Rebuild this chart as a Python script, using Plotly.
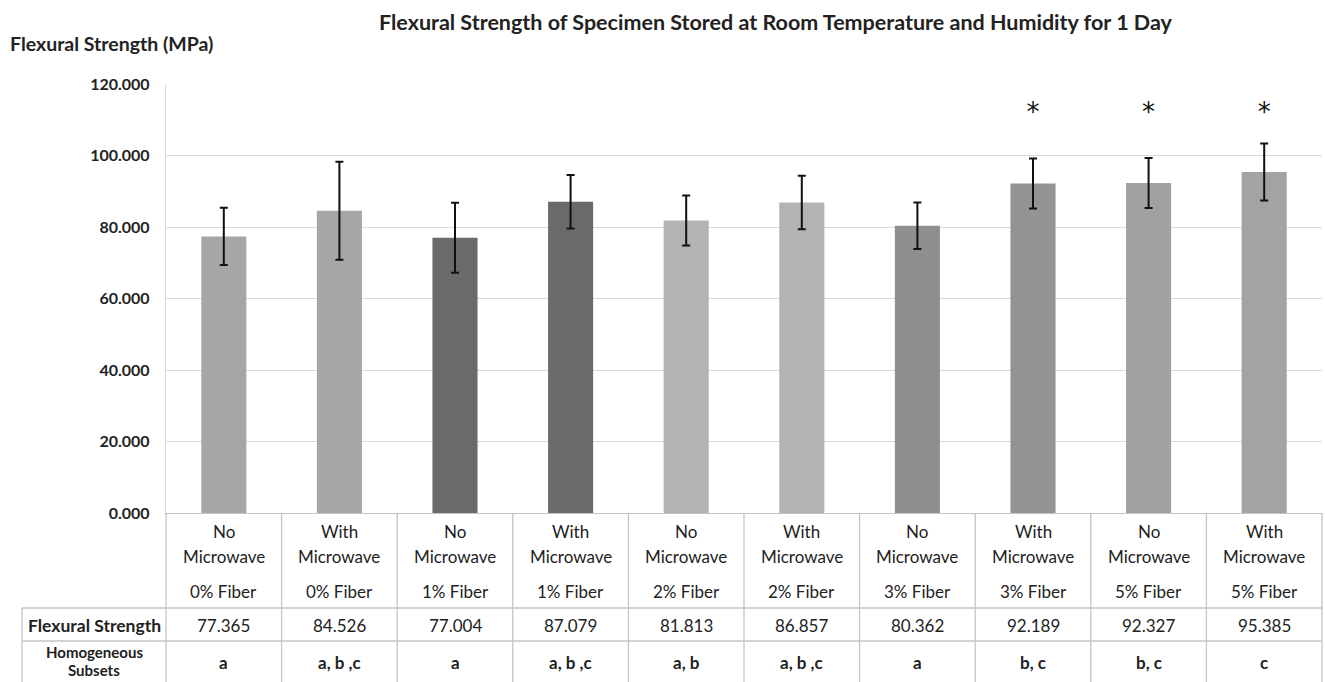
import plotly.graph_objects as go

# ---------------- data ----------------
microwave = ["No", "With", "No", "With", "No", "With", "No", "With", "No", "With"]
fiber = ["0% Fiber", "0% Fiber", "1% Fiber", "1% Fiber", "2% Fiber",
         "2% Fiber", "3% Fiber", "3% Fiber", "5% Fiber", "5% Fiber"]
strength = [77.365, 84.526, 77.004, 87.079, 81.813, 86.857, 80.362, 92.189, 92.327, 95.385]
strength_sd = [8.0, 13.7, 9.8, 7.5, 7.0, 7.5, 6.5, 7.0, 7.0, 8.0]
subsets = ["a", "a, b ,c", "a", "a, b ,c", "a, b", "a, b ,c", "a", "b, c", "b, c", "c"]
significant = [False, False, False, False, False, False, False, True, True, True]
star_level = 111.6
bar_colors = ["#a6a6a6", "#a6a6a6", "#6a6a6a", "#6a6a6a", "#b3b3b3",
              "#b3b3b3", "#8f8f8f", "#939393", "#a1a1a1", "#a3a3a3"]
y_ticks = [0, 20, 40, 60, 80, 100, 120]

title = "Flexural Strength of Specimen Stored at Room Temperature and Humidity for 1 Day"
y_title = "Flexural Strength (MPa)"
row_label_strength = "Flexural Strength"
row_label_subsets = ["Homogeneous", "Subsets"]

# ---------------- layout geometry ----------------
W, H = 1325, 682
L, R, T, B = 166, 3, 84, 169
plot_w = W - L - R
plot_h = H - T - B
FONT = "Lato"
GRID = "#d9d9d9"
TBL = "#c4c4c4"
INK = "#222222"


def py(pix):
    """pixel row -> paper y"""
    return (H - B - pix) / plot_h


def px(pix):
    """pixel column -> paper x"""
    return (pix - L) / plot_w


n = len(strength)
idx = list(range(n))

fig = go.Figure()
fig.add_trace(go.Bar(
    x=idx, y=strength, width=0.39,
    marker=dict(color=bar_colors, line=dict(width=0)),
    error_y=dict(type="data", array=strength_sd, visible=True,
                 color="#111111", thickness=2, width=4),
    showlegend=False, hoverinfo="skip",
))
sx = [i for i in idx if significant[i]]
fig.add_trace(go.Scatter(
    x=sx, y=[star_level] * len(sx), mode="text", text=["*"] * len(sx),
    textfont=dict(family="DejaVu Sans", size=26, color="#111111"),
    textposition="middle center", showlegend=False, hoverinfo="skip",
))

annotations = []


def ann(text, x, y, size, bold=False, xref="paper", xanchor="center"):
    annotations.append(dict(text=("<b>" + text + "</b>") if bold else text,
                            xref=xref, yref="paper", x=x, y=y,
                            xanchor=xanchor, yanchor="middle", showarrow=False,
                            font=dict(family=FONT, size=size, color=INK)))


# title and axis title
ann(title, px(776), py(22), 21.5, bold=True)
ann(y_title, px(8), py(43), 19.5, bold=True, xanchor="left")

# table text
for i in idx:
    ann(microwave[i], i, py(531), 17, xref="x")
    ann("Microwave", i, py(556), 17, xref="x")
    ann(fiber[i], i, py(591), 17, xref="x")
    ann(f"{strength[i]:.3f}", i, py(625), 17, xref="x")
    ann(subsets[i], i, py(662), 17, bold=True, xref="x")

ann(row_label_strength, px(94), py(625), 17.5, bold=True)
ann(row_label_subsets[0], px(94), py(652), 15, bold=True)
ann(row_label_subsets[1], px(94), py(670), 15, bold=True)

# table lines
shapes = []
line = dict(color=TBL, width=1.3)
y_bottom = py(H + 2)
for k in range(n + 1):
    shapes.append(dict(type="line", xref="paper", yref="paper", x0=k / n, x1=k / n,
                       y0=0, y1=y_bottom, line=line))
for rowpix in (608, 641):
    shapes.append(dict(type="line", xref="paper", yref="paper", x0=px(22), x1=1,
                       y0=py(rowpix), y1=py(rowpix), line=line))
shapes.append(dict(type="line", xref="paper", yref="paper", x0=px(22), x1=px(22),
                   y0=py(608), y1=y_bottom, line=line))

fig.update_layout(
    width=W, height=H,
    margin=dict(l=L, r=R, t=T, b=B, pad=0),
    paper_bgcolor="white", plot_bgcolor="white",
    xaxis=dict(range=[-0.5, n - 0.5], showticklabels=False, showgrid=False,
               zeroline=False, showline=True, linecolor=TBL, linewidth=1.3, fixedrange=True),
    yaxis=dict(range=[0, 120], tickvals=y_ticks, tickformat=".3f",
               showgrid=True, gridcolor=GRID, gridwidth=1.3, zeroline=False,
               showline=True, linecolor=GRID, linewidth=1.3, ticks="",
               ticklabelstandoff=12,
               tickfont=dict(family=FONT, size=16, color=INK, weight="bold")),
    annotations=annotations, shapes=shapes,
    font=dict(family=FONT),
)

fig.write_html("out.html",
               config={"displayModeBar": False},
               post_script="document.body.style.margin='0';document.body.style.overflow='hidden';")
